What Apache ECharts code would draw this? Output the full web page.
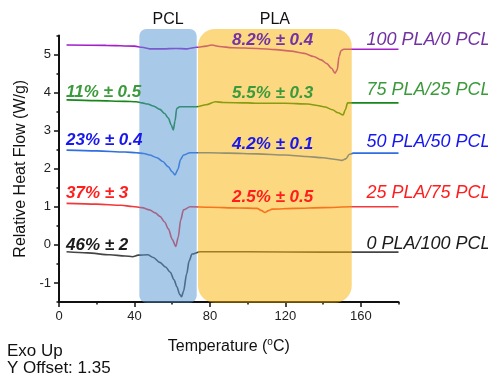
<!DOCTYPE html>
<html><head><meta charset="utf-8">
<script src="https://cdn.jsdelivr.net/npm/echarts@6/dist/echarts.min.js"></script>
<style>html,body{margin:0;padding:0;background:#fff}#c{width:488px;height:377px}</style>
</head><body><div id="c"></div>
<script>
const seriesNames = ['100 PLA/0 PCL', '75 PLA/25 PCL', '50 PLA/50 PCL', '25 PLA/75 PCL', '0 PLA/100 PCL'];
const pla100 = [[4,5.25],[25,5.24],[40,5.22],[44,5.19],[48,5.15],[55,5.15],[62,5.16],[68,5.15],[73,5.19],[78,5.22],[81,5.25],[85,5.21],[92,5.18],[105,5.16],[115,5.13],[123,5.09],[130,5.03],[135,4.95],[139,4.86],[142,4.76],[144.5,4.64],[146.3,4.51],[147.5,4.6],[148.5,4.95],[149.5,5.1],[151,5.14],[165,5.14],[180,5.14]];
const pla75 = [[4,3.81],[20,3.79],[35,3.77],[41,3.76],[44,3.73],[47,3.70],[50,3.65],[53.5,3.56],[56,3.45],[58,3.33],[59.5,3.15],[60.6,3.02],[61.5,3.25],[62.4,3.58],[64,3.63],[73,3.63],[78,3.68],[83,3.76],[87,3.74],[100,3.73],[105,3.72],[120,3.72],[132,3.70],[137,3.66],[141,3.62],[145,3.55],[148,3.47],[150.6,3.41],[151.8,3.55],[153,3.73],[165,3.73],[180,3.73]];
const pla50 = [[4,2.49],[20,2.47],[35,2.44],[41,2.42],[45,2.40],[48,2.36],[52,2.29],[55,2.19],[58,2.05],[60,1.92],[61.5,1.84],[63,1.98],[64.5,2.25],[66,2.36],[69.5,2.42],[80,2.42],[90,2.41],[105,2.39],[120,2.36],[131,2.32],[140,2.29],[146,2.25],[150,2.22],[152,2.26],[154,2.38],[156,2.41],[180,2.41]];
const pla25 = [[4,1.09],[20,1.07],[33,1.04],[39,1.01],[44,0.98],[48,0.92],[51,0.84],[53.5,0.75],[56,0.6],[58,0.42],[60,0.15],[61.9,-0.04],[63.2,0.2],[64.5,0.65],[66,0.92],[69.5,1.0],[80,0.99],[95,0.97],[105,0.96],[107.5,0.9],[109.2,0.85],[111,0.9],[113,0.94],[125,0.96],[140,0.98],[155,1.0],[180,1.0]];
const pla0 = [[4,-0.18],[15,-0.21],[27,-0.26],[35,-0.29],[39,-0.31],[42,-0.27],[47,-0.26],[50,-0.33],[53.5,-0.46],[56.5,-0.58],[59,-0.72],[61,-0.92],[62.5,-1.1],[64,-1.3],[65,-1.36],[66,-1.22],[67.7,-0.76],[69,-0.42],[70.5,-0.24],[74.8,-0.18],[100,-0.18],[140,-0.19],[180,-0.19]];
const pclCrystallinity = ['', '11% ± 0.5', '23% ± 0.4', '37% ± 3', '46% ± 2'];
const plaCrystallinity = ['8.2% ± 0.4', '5.5% ± 0.3', '4.2% ± 0.1', '2.5% ± 0.5', ''];
const pclRegion = [42.6, 73.0];
const plaRegion = [73.7, 155.2];
const regionY = [-1.52, 5.67];
const regionNames = ['PCL', 'PLA'];
const xTicks = [0, 160, 40];
const yTicks = [-1, 5, 1];

const allData = [pla100, pla75, pla50, pla25, pla0];
const lineColors = ['#a21fc9', '#17861c', '#2f6fe0', '#f2383a', '#454545'];
const textColors = ['#7232a3', '#3b9a3b', '#1717ee', '#ff1d1d', '#1c1c1c'];
const labelLeftY = [0, 92, 140, 193.5, 245.5];
const labelRightY = [40, 93, 144.5, 197.5, 0];
const nameY = [40, 90, 142, 192.5, 243.5];
const FONT = '"Liberation Sans", Arial, sans-serif';

const chart = echarts.init(document.getElementById('c'));
const axisColor = '#111';
const option = {
  animation: false,
  grid: [
    {left: 59, right: 89.5, top: 35.5, bottom: 75},
    {left: 59, right: 127.2, top: 54.54, bottom: 94.04}
  ],
  xAxis: [
    {gridIndex: 0, type: 'value', min: 0, max: 180, interval: 20,
      axisLine: {onZero: false, lineStyle: {color: axisColor, width: 2}},
      axisTick: {length: 2.5, lineStyle: {color: axisColor, width: 1.5}},
      axisLabel: {show: false}, splitLine: {show: false},
      name: 'Temperature ({s|o}C)', nameLocation: 'middle', nameGap: 35,
      nameTextStyle: {fontSize: 16, color: '#111', fontFamily: FONT,
        rich: {s: {fontSize: 10, fontFamily: FONT, color: '#111', padding: [0, 0, 9, 0]}}}
    },
    {gridIndex: 1, type: 'value', min: xTicks[0], max: xTicks[1], interval: xTicks[2],
      position: 'bottom', offset: 19.05,
      axisLine: {show: false, onZero: false},
      axisTick: {length: 5, lineStyle: {color: axisColor, width: 1.5}},
      axisLabel: {fontSize: 13, color: '#222', margin: 8, fontFamily: FONT}, splitLine: {show: false}
    }
  ],
  yAxis: [
    {gridIndex: 0, type: 'value', min: -1.5, max: 5.5, interval: 0.5,
      axisLine: {onZero: false, lineStyle: {color: axisColor, width: 2}},
      axisTick: {length: 2.5, lineStyle: {color: axisColor, width: 1.5}},
      axisLabel: {show: false}, splitLine: {show: false},
      name: 'Relative Heat Flow (W/g)', nameLocation: 'middle', nameGap: 30,
      nameTextStyle: {fontSize: 16, color: '#111', fontFamily: FONT}
    },
    {gridIndex: 1, type: 'value', min: yTicks[0], max: yTicks[1], interval: yTicks[2],
      axisLine: {show: false, onZero: false},
      axisTick: {length: 5, lineStyle: {color: axisColor, width: 1.5}},
      axisLabel: {fontSize: 13, color: '#222', margin: 8, fontFamily: FONT}, splitLine: {show: false}
    }
  ],
  series: allData.map((d, i) => ({
    name: seriesNames[i], type: 'line', xAxisIndex: 0, yAxisIndex: 0,
    data: d, showSymbol: false, smooth: 0.3, smoothMonotone: 'x',
    lineStyle: {color: lineColors[i], width: 1.6}, z: 2
  }))
};
chart.setOption(option);

const g = [];
function region(r, fill, rad) {
  const a = chart.convertToPixel({gridIndex: 0}, [r[0], regionY[1]]);
  const b = chart.convertToPixel({gridIndex: 0}, [r[1], regionY[0]]);
  g.push({type: 'rect', z: 10, shape: {x: a[0], y: a[1], width: b[0] - a[0], height: b[1] - a[1], r: rad},
    style: {fill: fill}});
  const c = chart.convertToPixel({gridIndex: 0}, [(r[0] + r[1]) / 2, regionY[1]]);
  return c[0];
}
const pclX = region(pclRegion, 'rgba(83,147,211,0.5)', 7);
const plaX = region(plaRegion, 'rgba(250,177,3,0.5)', 17);
[pclX, plaX].forEach((x, i) => {
  g.push({type: 'text', z: 20, x: x, y: 20, style: {text: regionNames[i], fontSize: 16, fontFamily: FONT,
    fill: '#111', align: 'center', verticalAlign: 'middle'}});
});
function txt(s, x, y, color, size, weight, style) {
  if (!s) return;
  g.push({type: 'text', z: 20, x: x, y: y, style: {text: s, fontSize: size, fontWeight: weight, fontStyle: style,
    fontFamily: FONT, fill: color, align: 'left', verticalAlign: 'middle'}});
}
for (let i = 0; i < 5; i++) {
  txt(pclCrystallinity[i], 66, labelLeftY[i], textColors[i], 17, 'bold', 'italic');
  txt(plaCrystallinity[i], 232, labelRightY[i], textColors[i], 17, 'bold', 'italic');
  txt(seriesNames[i], 366.5, nameY[i], textColors[i], 18, 'normal', 'italic');
}
txt('Exo Up', 7, 351, '#111', 17, 'normal', 'normal');
txt('Y Offset: 1.35', 7, 368, '#111', 17, 'normal', 'normal');
chart.setOption({graphic: g});
</script></body></html>
